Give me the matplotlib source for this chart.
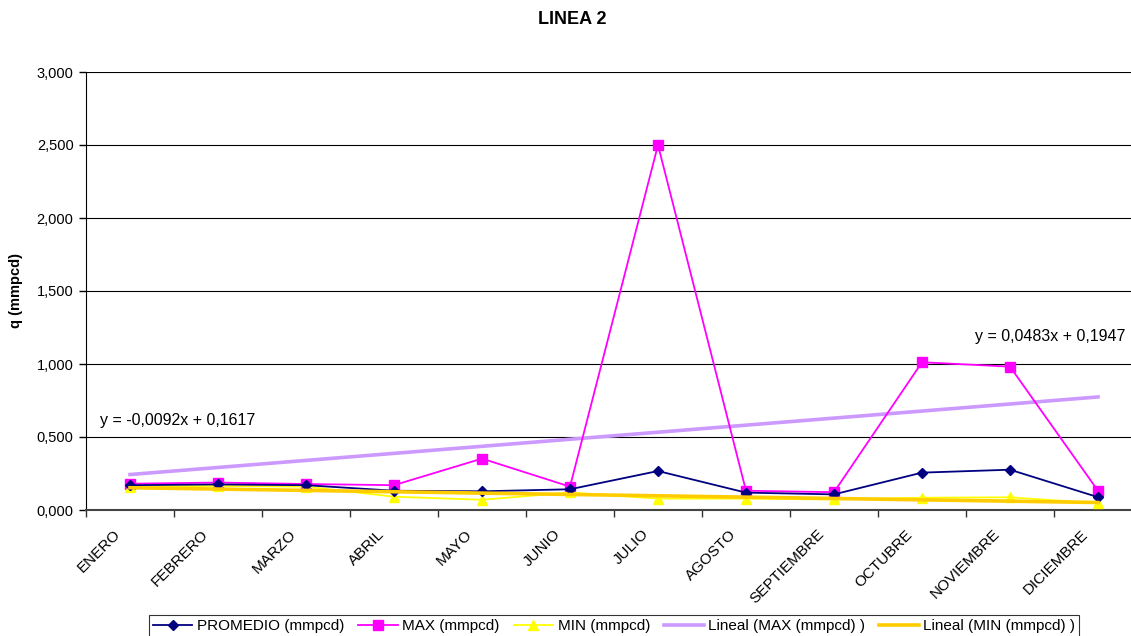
import numpy as np
import matplotlib.pyplot as plt
from matplotlib.ticker import FuncFormatter, FixedLocator

plt.rcParams['font.family'] = ['Liberation Sans', 'DejaVu Sans']

meses = ['ENERO', 'FEBRERO', 'MARZO', 'ABRIL', 'MAYO', 'JUNIO', 'JULIO',
         'AGOSTO', 'SEPTIEMBRE', 'OCTUBRE', 'NOVIEMBRE', 'DICIEMBRE']
promedio = [0.170, 0.175, 0.170, 0.132, 0.128, 0.142, 0.267, 0.119, 0.107, 0.256, 0.276, 0.088]
maximo = [0.180, 0.188, 0.178, 0.170, 0.352, 0.160, 2.500, 0.132, 0.122, 1.012, 0.982, 0.132]
minimo = [0.160, 0.165, 0.160, 0.091, 0.070, 0.120, 0.078, 0.078, 0.072, 0.084, 0.087, 0.046]

# coeficientes de las lineas de tendencia (pendiente, ordenada)
tend_max = [0.0483, 0.1947]
tend_min = [-0.0092, 0.1617]

x = np.arange(1, len(meses) + 1)

fig = plt.figure(figsize=(11.31, 6.36), dpi=100)
ax = fig.add_axes([86 / 1131, 1 - 510 / 636, 1056 / 1131, 438 / 636])

ax.plot(x, promedio, color='#000080', lw=1.3, marker='D', ms=5.5,
        label='PROMEDIO (mmpcd)', zorder=4)
ax.plot(x, maximo, color='#FF00FF', lw=1.3, marker='s', ms=7,
        label='MAX (mmpcd)', zorder=3)
ax.plot(x, minimo, color='#FFFF00', lw=1.3, marker='^', ms=7,
        label='MIN (mmpcd)', zorder=3)

ax.plot(x, tend_max[0] * x + tend_max[1], color='#CC99FF', lw=2.6,
        label='Lineal (MAX (mmpcd) )', zorder=2)
ax.plot(x, tend_min[0] * x + tend_min[1], color='#FFCC00', lw=2.6,
        label='Lineal (MIN (mmpcd) )', zorder=5)

ax.text(0.66, 0.615, 'y = -0,0092x + 0,1617', fontsize=11.5, va='center', ha='left')
ax.text(12.31, 1.185, 'y = 0,0483x + 0,1947', fontsize=11.5, va='center', ha='right')

ax.set_xlim(0.5, 12.5)
ax.set_ylim(0, 3.0)
ax.set_yticks(np.arange(0, 3.01, 0.5))
ax.yaxis.set_major_formatter(FuncFormatter(lambda v, p: f'{v:.3f}'.replace('.', ',')))
ax.grid(axis='y', color='black', lw=0.8)
ax.set_axisbelow(True)

# etiquetas de meses inclinadas, terminando a la izquierda de cada categoria
ax.set_xticks(x)
ax.set_xticklabels([])
for xi, mes in zip(x, meses):
    ax.annotate(mes, xy=(xi, 0), xycoords=('data', 'axes fraction'),
                xytext=(-12 * 0.72, -22 * 0.72), textcoords='offset points',
                rotation=45, ha='right', va='center', rotation_mode='anchor',
                fontsize=11, annotation_clip=False)
ax.xaxis.set_minor_locator(FixedLocator(np.arange(0.5, 12.6, 1)))
ax.tick_params(axis='x', which='major', length=0)
ax.tick_params(axis='x', which='minor', length=5, width=1, color='#333333')
ax.tick_params(axis='y', length=5, width=1, labelsize=10.5, pad=4)

for s in ['top', 'right']:
    ax.spines[s].set_visible(False)
ax.spines['left'].set_color('black')
ax.spines['bottom'].set_color('#444444')
ax.spines['bottom'].set_linewidth(1.5)

ax.set_ylabel('q (mmpcd)', fontsize=10.5, fontweight='bold', labelpad=10)
fig.text(572 / 1131, 1 - 19 / 636, 'LINEA 2', fontsize=13, fontweight='bold', ha='center', va='center')

leg = fig.legend(loc='center', bbox_to_anchor=(614 / 1131, 1 - 626 / 636), ncol=5,
                 frameon=True, fancybox=False, edgecolor='black', fontsize=11,
                 handlelength=2.6, handletextpad=0.3, columnspacing=0.9,
                 borderpad=0.25, borderaxespad=0)
leg.get_frame().set_linewidth(0.8)

fig.savefig('out.png', dpi=100)
